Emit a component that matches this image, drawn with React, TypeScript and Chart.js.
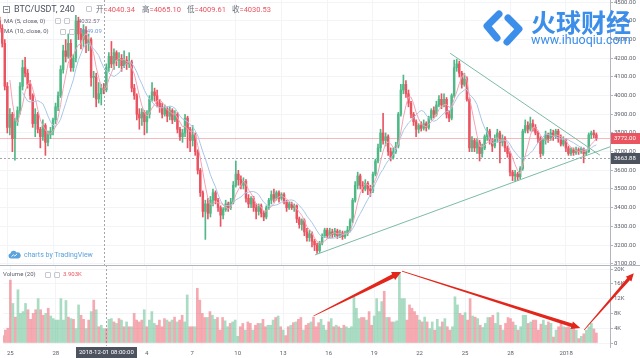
import React, { useEffect, useRef } from 'react';
import { Chart, registerables } from 'chart.js';

Chart.register(...registerables);

// ---------------- data (4h candles) ----------------
const symbol = 'BTC/USDT, 240';

const opens = [
  4400, 4360, 4280, 4050, 3830, 3900, 3770, 3860, 3920, 4050,
  4150, 4120, 4060, 4000, 3850, 3900, 3820, 3780, 3840, 3750,
  3790, 3810, 3870, 3940, 4000, 4140, 4240, 4210, 4280, 4150,
  4200, 4400, 4330, 4300, 4350, 4280, 4300, 4098, 4100, 3982,
  4010, 4040.34, 4030.53, 4150, 4210, 4170, 4230, 4190, 4200, 4160,
  4190, 4170, 4180, 4040, 4000, 3900, 3880, 3910, 3860, 3900,
  3980, 4020, 4000, 3960, 3940, 3900, 3930, 3890, 3920, 3870,
  3900, 3820, 3780, 3800, 3880, 3820, 3760, 3790, 3700, 3600,
  3480, 3380, 3420, 3370, 3440, 3480, 3440, 3400, 3360, 3390,
  3420, 3400, 3430, 3520, 3580, 3550, 3520, 3540, 3450, 3420,
  3450, 3400, 3380, 3410, 3370, 3350, 3400, 3440, 3470, 3450,
  3480, 3450, 3470, 3430, 3400, 3420, 3400, 3410, 3340, 3310,
  3330, 3270, 3240, 3260, 3220, 3200, 3170, 3210, 3250, 3280,
  3250, 3270, 3255, 3275, 3250, 3265, 3245, 3260, 3280, 3330,
  3440, 3520, 3570, 3520, 3500, 3530, 3500, 3490, 3580, 3650,
  3720, 3800, 3760, 3780, 3700, 3670, 3700, 3730, 3900, 4030,
  4060, 4010, 3960, 3900, 3860, 3820, 3840, 3825, 3850, 3830,
  3880, 3920, 3900, 3950, 3980, 3950, 3980, 3900, 3880, 4000,
  4150, 4170, 4120, 4060, 4090, 3980, 3720, 3760, 3720, 3750,
  3690, 3720, 3780, 3810, 3760, 3730, 3770, 3800, 3750, 3770,
  3720, 3690, 3590, 3570, 3580, 3565, 3610, 3810, 3840, 3820,
  3850, 3830, 3800, 3770, 3690, 3760, 3790, 3770, 3800, 3780,
  3810, 3770, 3740, 3760, 3720, 3690, 3710, 3695, 3710, 3700,
  3715, 3690, 3700, 3790, 3800, 3790,
];

const highs = [
  4420, 4380, 4300, 4070, 3930, 3910, 3880, 3940, 4070, 4190,
  4205, 4140, 4080, 4010, 3930, 3910, 3830, 3870, 3850, 3810,
  3830, 3880, 3960, 4020, 4160, 4270, 4300, 4330, 4300, 4220,
  4430, 4420, 4360, 4380, 4370, 4330, 4310, 4130, 4120, 4070,
  4060, 4065.10, 4170, 4230, 4290, 4250, 4240, 4230, 4220, 4240,
  4210, 4230, 4190, 4060, 4010, 3930, 3930, 3920, 3920, 4000,
  4070, 4040, 4030, 3980, 3960, 3950, 3940, 3940, 3930, 3920,
  3910, 3830, 3820, 3900, 3890, 3830, 3840, 3800, 3710, 3610,
  3490, 3440, 3450, 3460, 3500, 3490, 3450, 3410, 3400, 3440,
  3430, 3450, 3540, 3650, 3600, 3570, 3560, 3550, 3470, 3460,
  3460, 3420, 3420, 3420, 3380, 3410, 3450, 3490, 3500, 3490,
  3490, 3480, 3480, 3440, 3430, 3430, 3420, 3415, 3350, 3340,
  3340, 3290, 3280, 3270, 3230, 3210, 3220, 3260, 3290, 3290,
  3290, 3285, 3290, 3285, 3280, 3275, 3275, 3300, 3340, 3450,
  3540, 3590, 3580, 3540, 3550, 3540, 3520, 3590, 3660, 3740,
  3820, 3905, 3800, 3790, 3720, 3720, 3750, 3910, 4060, 4110,
  4080, 4030, 3970, 3910, 3870, 3850, 3860, 3870, 3860, 3890,
  3930, 3940, 3970, 4000, 4010, 4010, 3990, 3920, 4010, 4190,
  4195, 4185, 4130, 4120, 4100, 3990, 3780, 3770, 3770, 3760,
  3740, 3790, 3830, 3820, 3770, 3790, 3820, 3810, 3790, 3780,
  3730, 3700, 3600, 3600, 3590, 3620, 3820, 3870, 3860, 3885,
  3870, 3845, 3810, 3780, 3770, 3810, 3800, 3820, 3815, 3820,
  3820, 3790, 3780, 3770, 3730, 3720, 3720, 3725, 3720, 3725,
  3720, 3710, 3800, 3810, 3815, 3800,
];

const lows = [
  4340, 4260, 4030, 3800, 3790, 3700, 3655, 3840, 3900, 4030,
  4100, 4040, 3980, 3830, 3780, 3800, 3720, 3760, 3680, 3730,
  3770, 3790, 3850, 3920, 3990, 4120, 4180, 4200, 4130, 4130,
  4180, 4300, 4250, 4260, 4230, 4240, 4050, 3990, 3940, 3960,
  3950, 4009.61, 4020, 4130, 4150, 4140, 4160, 4150, 4130, 4150,
  4140, 4150, 4020, 3980, 3870, 3820, 3840, 3790, 3800, 3880,
  3970, 3970, 3940, 3910, 3880, 3890, 3860, 3870, 3850, 3860,
  3800, 3760, 3750, 3780, 3720, 3700, 3730, 3680, 3580, 3460,
  3350, 3230, 3340, 3350, 3410, 3420, 3380, 3300, 3340, 3380,
  3380, 3390, 3420, 3510, 3520, 3500, 3500, 3430, 3400, 3400,
  3380, 3340, 3360, 3350, 3330, 3340, 3390, 3420, 3430, 3440,
  3430, 3440, 3420, 3380, 3390, 3390, 3380, 3320, 3290, 3280,
  3250, 3220, 3220, 3190, 3170, 3155, 3160, 3200, 3240, 3240,
  3240, 3240, 3245, 3235, 3240, 3230, 3235, 3250, 3270, 3320,
  3430, 3500, 3500, 3480, 3490, 3470, 3460, 3480, 3570, 3640,
  3700, 3740, 3730, 3680, 3650, 3660, 3690, 3720, 3890, 4010,
  3990, 3940, 3880, 3840, 3780, 3800, 3810, 3815, 3810, 3820,
  3870, 3880, 3890, 3940, 3930, 3940, 3880, 3860, 3870, 3990,
  4130, 4100, 4040, 4050, 3970, 3700, 3700, 3700, 3690, 3650,
  3670, 3710, 3760, 3740, 3700, 3720, 3750, 3640, 3730, 3700,
  3670, 3570, 3545, 3540, 3545, 3555, 3600, 3800, 3800, 3810,
  3810, 3790, 3750, 3670, 3680, 3740, 3750, 3760, 3760, 3770,
  3750, 3730, 3730, 3700, 3680, 3680, 3680, 3685, 3685, 3690,
  3640, 3680, 3695, 3770, 3775, 3760,
];

const closes = [
  4360, 4280, 4050, 3830, 3900, 3770, 3860, 3920, 4050, 4150,
  4120, 4060, 4000, 3850, 3900, 3820, 3780, 3840, 3750, 3790,
  3810, 3870, 3940, 4000, 4140, 4240, 4210, 4280, 4150, 4200,
  4400, 4330, 4300, 4350, 4280, 4300, 4098, 4100, 3982, 4010,
  4040.34, 4030.53, 4150, 4210, 4170, 4230, 4190, 4200, 4160, 4190,
  4170, 4180, 4040, 4000, 3900, 3880, 3910, 3860, 3900, 3980,
  4020, 4000, 3960, 3940, 3900, 3930, 3890, 3920, 3870, 3900,
  3820, 3780, 3800, 3880, 3820, 3760, 3790, 3700, 3600, 3480,
  3380, 3420, 3370, 3440, 3480, 3440, 3400, 3360, 3390, 3420,
  3400, 3430, 3520, 3580, 3550, 3520, 3540, 3450, 3420, 3450,
  3400, 3380, 3410, 3370, 3350, 3400, 3440, 3470, 3450, 3480,
  3450, 3470, 3430, 3400, 3420, 3400, 3410, 3340, 3310, 3330,
  3270, 3240, 3260, 3220, 3200, 3170, 3210, 3250, 3280, 3250,
  3270, 3255, 3275, 3250, 3265, 3245, 3260, 3280, 3330, 3440,
  3520, 3570, 3520, 3500, 3530, 3500, 3490, 3580, 3650, 3720,
  3800, 3760, 3780, 3700, 3670, 3700, 3730, 3900, 4030, 4060,
  4010, 3960, 3900, 3860, 3820, 3840, 3825, 3850, 3830, 3880,
  3920, 3900, 3950, 3980, 3950, 3980, 3900, 3880, 4000, 4150,
  4170, 4120, 4060, 4090, 3980, 3720, 3760, 3720, 3750, 3690,
  3720, 3780, 3810, 3760, 3730, 3770, 3800, 3750, 3770, 3720,
  3690, 3590, 3570, 3580, 3565, 3610, 3810, 3840, 3820, 3850,
  3830, 3800, 3770, 3690, 3760, 3790, 3770, 3800, 3780, 3810,
  3770, 3740, 3760, 3720, 3690, 3710, 3695, 3710, 3700, 3715,
  3690, 3700, 3790, 3800, 3790, 3772,
];

// volume in thousands
const volumes = [
  2.0, 3.5, 4.0, 17.0, 10.7, 7.0, 14.4, 8.0, 8.5, 10.7,
  9.0, 6.4, 8.0, 9.0, 12.0, 9.0, 7.5, 8.0, 9.4, 7.3,
  6.6, 6.2, 6.2, 12.0, 6.2, 11.5, 7.0, 6.6, 6.4, 3.9,
  10.3, 7.5, 6.4, 3.9, 6.2, 8.5, 11.6, 9.0, 4.4, 4.8,
  3.9, 3.903, 6.4, 6.6, 5.7, 5.3, 6.6, 6.2, 4.4, 5.7,
  4.4, 4.4, 8.0, 6.2, 5.7, 6.2, 9.0, 4.4, 6.2, 8.5,
  5.3, 4.8, 6.2, 4.4, 6.6, 6.2, 5.7, 6.2, 7.0, 5.7,
  6.2, 7.5, 5.7, 13.0, 4.4, 4.4, 4.4, 14.8, 11.6, 8.0,
  6.9, 6.9, 8.5, 7.5, 6.4, 6.9, 3.5, 6.9, 6.0, 4.4,
  5.3, 5.7, 6.2, 1.8, 4.4, 5.3, 3.5, 5.7, 5.3, 3.5,
  4.8, 5.3, 5.3, 6.4, 4.4, 4.8, 4.8, 6.2, 6.9, 7.3,
  4.4, 3.5, 2.0, 4.4, 4.8, 5.5, 5.7, 6.4, 6.9, 3.5,
  4.8, 5.3, 5.7, 7.0, 4.4, 5.5, 6.4, 4.8, 3.5, 5.7,
  6.6, 4.4, 4.8, 4.4, 4.0, 4.8, 4.4, 4.0, 4.4, 12.5,
  9.4, 6.6, 6.9, 6.9, 6.2, 8.5, 4.8, 7.3, 12.0, 8.5,
  11.2, 14.0, 6.9, 6.9, 5.7, 5.7, 6.0, 19.0, 12.0, 12.0,
  6.2, 10.3, 9.4, 8.5, 7.5, 6.2, 5.7, 7.0, 5.7, 3.9,
  5.7, 3.5, 6.4, 4.4, 5.7, 6.6, 4.4, 3.5, 4.4, 12.5,
  10.3, 8.0, 7.5, 8.2, 6.2, 12.0, 7.3, 7.0, 6.6, 4.8,
  4.2, 5.3, 6.9, 6.9, 7.5, 5.3, 8.2, 4.8, 3.5, 5.3,
  6.9, 6.6, 5.7, 4.8, 3.5, 4.4, 7.5, 7.5, 5.3, 5.7,
  6.2, 6.2, 3.5, 5.1, 6.2, 4.8, 5.7, 5.3, 1.6, 3.5,
  4.4, 5.3, 4.4, 4.2, 4.4, 4.0, 4.0, 3.5, 1.2, 1.8,
  2.5, 3.5, 4.4, 5.3, 3.8, 2.7,
];

const dateTicks = [3, 21, 57, 75, 93, 111, 129, 147, 165, 183, 201, 223];
const dateLabels = ['25', '28', '4', '7', '10', '13', '16', '19', '22', '25', '28', '2018'];
const priceTicks = [3100, 3200, 3300, 3400, 3500, 3600, 3700, 3800, 3900, 4000, 4100, 4200, 4300, 4400, 4500];
const volumeTicks = [0, 4, 8, 12, 16, 20];

const crosshairIndex = 41;
const crosshairTime = '2018-12-01 08:00:00';
const crosshairPrice = 3663.88;

// trend lines: [candle index, price]
const upperTrend = [[177.4, 4227], [236.4, 3681]];
const lowerTrend = [[124.2, 3147], [240.4, 3726]];
// red arrows on volume pane: [[index, volumeK] from, [index, volumeK] to]
const volumeArrows = [
  [[123, 7.3], [157.7, 19.2]],
  [[158, 19.45], [228.6, 4.05]],
  [[230.1, 3.5], [249.8, 18.9]],
];

// ---------------- styling ----------------
const X_MIN = 0.12;
const X_MAX = 240.37;
const PRICE_MIN = 3093;
const PRICE_MAX = 4512;
const VOLUME_MAX = 21.1;

const UP = '#4fb886';
const DOWN = '#ea5461';
const UP_VOL = 'rgba(83,185,135,0.5)';
const DOWN_VOL = 'rgba(235,77,92,0.48)';
const GRID = '#f3f4f7';
const AXIS = '#b2b5be';
const TEXT = '#5d606b';
const FONT = 'Roboto, "Noto Sans", sans-serif';
const CJK = '"Noto Sans CJK SC", sans-serif';
const BLUE = '#3b8eea';

function movingAverage(period: number) {
  return closes.map((_, i) => {
    if (i < period - 1) return null;
    let s = 0;
    for (let k = i - period + 1; k <= i; k++) s += closes[k];
    return s / period;
  });
}
const ma5 = movingAverage(5);
const ma10 = movingAverage(10);
const isUp = closes.map((c, i) => c >= opens[i]);
const lastPrice = closes[closes.length - 1];

function drawArrow(ctx: CanvasRenderingContext2D, x0: number, y0: number, x1: number, y1: number, w0: number, w1: number, hw: number, hl: number) {
  const dx = x1 - x0, dy = y1 - y0;
  const len = Math.hypot(dx, dy);
  const ux = dx / len, uy = dy / len;
  const nx = -uy, ny = ux;
  const bx = x1 - ux * hl, by = y1 - uy * hl;
  ctx.beginPath();
  ctx.moveTo(x0 + nx * w0 / 2, y0 + ny * w0 / 2);
  ctx.lineTo(bx + nx * w1 / 2, by + ny * w1 / 2);
  ctx.lineTo(bx + nx * hw / 2, by + ny * hw / 2);
  ctx.lineTo(x1, y1);
  ctx.lineTo(bx - nx * hw / 2, by - ny * hw / 2);
  ctx.lineTo(bx - nx * w1 / 2, by - ny * w1 / 2);
  ctx.lineTo(x0 - nx * w0 / 2, y0 - ny * w0 / 2);
  ctx.closePath();
  ctx.fill();
}

function drawTag(ctx: CanvasRenderingContext2D, left: number, yc: number, text: string, bg: string) {
  ctx.save();
  ctx.fillStyle = bg;
  ctx.fillRect(left, Math.round(yc) - 5, 640 - left, 11);
  ctx.fillStyle = '#ffffff';
  ctx.font = `6px ${FONT}`;
  ctx.textAlign = 'left';
  ctx.textBaseline = 'middle';
  ctx.fillText(text, left + 3, Math.round(yc) + 0.5);
  ctx.restore();
}

const pricePlugin = {
  id: 'priceDecor',
  beforeDatasetsDraw(chart: any) {
    const { ctx, chartArea: a, scales } = chart;
    const x = scales.x, y = scales.y;
    ctx.save();
    ctx.lineWidth = 1;
    const yl = Math.round(y.getPixelForValue(lastPrice)) + 0.5;
    ctx.strokeStyle = 'rgba(235,77,92,0.4)';
    ctx.beginPath(); ctx.moveTo(a.left, yl); ctx.lineTo(a.right, yl); ctx.stroke();
    ctx.setLineDash([2, 2]);
    ctx.strokeStyle = '#a3a6ae';
    const yc = Math.round(y.getPixelForValue(crosshairPrice)) + 0.5;
    ctx.beginPath(); ctx.moveTo(a.left, yc); ctx.lineTo(a.right, yc); ctx.stroke();
    const xc = Math.round(x.getPixelForValue(crosshairIndex)) + 0.5;
    ctx.beginPath(); ctx.moveTo(xc, a.top); ctx.lineTo(xc, a.bottom); ctx.stroke();
    ctx.restore();
  },
  afterDraw(chart: any) {
    const { ctx, chartArea: a, scales } = chart;
    const y = scales.y;
    drawTag(ctx, a.right + 1, y.getPixelForValue(lastPrice), lastPrice.toFixed(2), DOWN);
    drawTag(ctx, a.right + 1, y.getPixelForValue(crosshairPrice), crosshairPrice.toFixed(2), '#4c525e');
  },
};

const volumePlugin = {
  id: 'volumeDecor',
  beforeDatasetsDraw(chart: any) {
    const { ctx, chartArea: a, scales } = chart;
    const xc = Math.round(scales.x.getPixelForValue(crosshairIndex)) + 0.5;
    ctx.save();
    ctx.setLineDash([2, 2]);
    ctx.strokeStyle = '#a3a6ae';
    ctx.lineWidth = 1;
    ctx.beginPath(); ctx.moveTo(xc, a.top); ctx.lineTo(xc, a.bottom + 3); ctx.stroke();
    ctx.restore();
  },
  afterDatasetsDraw(chart: any) {
    const { ctx, scales } = chart;
    const x = scales.x, y = scales.y;
    ctx.save();
    ctx.fillStyle = '#e2261b';
    const shapes = [[0.8, 4.2, 9, 9], [0.6, 3.8, 8, 9], [0.6, 3.4, 7.5, 8]];
    volumeArrows.forEach((arr, k) => {
      const [from, to] = arr;
      const s = shapes[k];
      drawArrow(ctx, x.getPixelForValue(from[0]), y.getPixelForValue(from[1]), x.getPixelForValue(to[0]), y.getPixelForValue(to[1]), s[0], s[1], s[2], s[3]);
    });
    ctx.restore();
  },
  afterDraw(chart: any) {
    const { ctx, chartArea: a, scales } = chart;
    ctx.save();
    ctx.strokeStyle = AXIS;
    ctx.lineWidth = 1;
    ctx.beginPath(); ctx.moveTo(0, 0.5); ctx.lineTo(640, 0.5); ctx.stroke();
    ctx.beginPath(); ctx.moveTo(a.right + 0.5, a.bottom); ctx.lineTo(a.right + 0.5, a.bottom + 5); ctx.stroke();
    const xc = scales.x.getPixelForValue(crosshairIndex);
    ctx.font = `6px ${FONT}`;
    const w = ctx.measureText(crosshairTime).width + 6;
    ctx.fillStyle = '#4c525e';
    ctx.fillRect(Math.round(xc - w / 2), a.bottom + 4, Math.round(w), 11);
    ctx.fillStyle = '#ffffff';
    ctx.textAlign = 'center';
    ctx.textBaseline = 'middle';
    ctx.fillText(crosshairTime, xc, a.bottom + 9.8);
    ctx.restore();
  },
};

const commonOptions: any = {
  animation: false,
  responsive: true,
  maintainAspectRatio: false,
  events: [],
  layout: { padding: 0, autoPadding: false },
  plugins: { legend: { display: false }, tooltip: { enabled: false } },
};

const box = (left: number, top: number) => (
  <div style={{ position: 'absolute', left, top, width: 4, height: 4, border: '1px solid #c5c8cf', borderRadius: 1 }} />
);

export default function App() {
  const priceRef = useRef<HTMLCanvasElement>(null);
  const volRef = useRef<HTMLCanvasElement>(null);

  useEffect(() => {
    document.body.style.margin = '0';
    const idx = closes.map((_, i) => i);
    const candleColors = idx.map(i => (isUp[i] ? UP : DOWN));
    const priceChart = new Chart(priceRef.current as HTMLCanvasElement, {
      type: 'bar',
      data: {
        datasets: [
          { type: 'line', data: upperTrend.map(p => ({ x: p[0], y: p[1] })), borderColor: '#7cbba6', borderWidth: 1, pointRadius: 0, order: 0 } as any,
          { type: 'line', data: lowerTrend.map(p => ({ x: p[0], y: p[1] })), borderColor: '#7cbba6', borderWidth: 1, pointRadius: 0, order: 0 } as any,
          { type: 'line', data: idx.map(i => ({ x: i, y: ma5[i] })), borderColor: '#f2a3b5', borderWidth: 1, pointRadius: 0, order: 1 } as any,
          { type: 'line', data: idx.map(i => ({ x: i, y: ma10[i] })), borderColor: '#a9c6e8', borderWidth: 1, pointRadius: 0, order: 1 } as any,
          { type: 'bar', data: idx.map(i => ({ x: i, y: [opens[i], closes[i]] })), backgroundColor: candleColors, barThickness: 1.8, grouped: false, minBarLength: 1, order: 2 } as any,
          { type: 'bar', data: idx.map(i => ({ x: i, y: [lows[i], highs[i]] })), backgroundColor: candleColors, barThickness: 1, grouped: false, order: 3 } as any,
        ],
      },
      options: {
        ...commonOptions,
        scales: {
          x: {
            type: 'linear', min: X_MIN, max: X_MAX, offset: false,
            afterBuildTicks: (s: any) => { s.ticks = dateTicks.map(v => ({ value: v })); },
            ticks: { display: false },
            grid: { color: GRID, drawTicks: false, offset: false },
            border: { display: false },
          },
          y: {
            type: 'linear', position: 'right', min: PRICE_MIN, max: PRICE_MAX,
            afterBuildTicks: (s: any) => { s.ticks = priceTicks.map(v => ({ value: v })); },
            afterFit: (s: any) => { s.width = 30; s.paddingTop = 0; s.paddingBottom = 0; },
            ticks: { font: { family: FONT, size: 6 }, color: TEXT, padding: 1, callback: (v: any) => Number(v).toFixed(2) },
            grid: { color: GRID, tickColor: AXIS, tickLength: 3 },
            border: { display: true, color: AXIS },
          },
        },
      } as any,
      plugins: [pricePlugin],
    });

    const volChart = new Chart(volRef.current as HTMLCanvasElement, {
      type: 'bar',
      data: {
        datasets: [
          { data: idx.map(i => ({ x: i, y: volumes[i] })), backgroundColor: idx.map(i => (isUp[i] ? UP_VOL : DOWN_VOL)), barThickness: 2, grouped: false } as any,
        ],
      },
      options: {
        ...commonOptions,
        scales: {
          x: {
            type: 'linear', min: X_MIN, max: X_MAX, offset: false,
            afterBuildTicks: (s: any) => { s.ticks = dateTicks.map(v => ({ value: v })); },
            afterFit: (s: any) => { s.height = 15; },
            ticks: { font: { family: FONT, size: 6 }, color: TEXT, padding: 7, maxRotation: 0, autoSkip: false, callback: (_v: any, i: number) => dateLabels[i] },
            grid: { color: GRID, drawTicks: false, offset: false },
            border: { display: false },
          },
          y: {
            type: 'linear', position: 'right', min: 0, max: VOLUME_MAX,
            afterBuildTicks: (s: any) => { s.ticks = volumeTicks.map(v => ({ value: v })); },
            afterFit: (s: any) => { s.width = 30; s.paddingTop = 0; s.paddingBottom = 0; },
            ticks: { font: { family: FONT, size: 6 }, color: TEXT, padding: 1, callback: (v: any) => (Number(v) === 0 ? '0' : `${v}K`) },
            grid: { color: GRID, tickColor: AXIS, tickLength: 3 },
            border: { display: true, color: AXIS },
          },
        },
      } as any,
      plugins: [volumePlugin],
    });

    return () => { priceChart.destroy(); volChart.destroy(); };
  }, []);

  const i = crosshairIndex;
  const valColor = isUp[i] ? UP : DOWN;
  const ohlc = [
    ['开', opens[i], 96],
    ['高', highs[i], 142],
    ['低', lows[i], 187],
    ['收', closes[i], 232],
  ];

  return (
    <div style={{ position: 'relative', width: 640, height: 358, overflow: 'hidden', background: '#ffffff', fontFamily: FONT }}>
      <div style={{ position: 'absolute', left: 0, top: 0, width: 640, height: 265 }}>
        <canvas ref={priceRef} style={{ display: 'block' }} />
      </div>
      <div style={{ position: 'absolute', left: 0, top: 265, width: 640, height: 93 }}>
        <canvas ref={volRef} style={{ display: 'block' }} />
      </div>

      {/* legend line 1 */}
      <div style={{ position: 'absolute', left: 3, top: 6, width: 5, height: 5, border: '1px solid #8a8d96' }}>
        <div style={{ position: 'absolute', left: 1, top: 2, width: 3, height: 1, background: '#8a8d96' }} />
      </div>
      <div style={{ position: 'absolute', left: 14, top: 3, lineHeight: '12px', fontSize: 9, color: '#4c525e', whiteSpace: 'nowrap' }}>{symbol}</div>
      {box(86, 6)}
      {ohlc.map(([k, v, left]) => (
        <div key={String(k)} style={{ position: 'absolute', left: Number(left), top: 4, lineHeight: '10px', fontSize: 7.5, whiteSpace: 'nowrap' }}>
          <span style={{ color: '#6a6d78', fontFamily: CJK }}>{k}</span>
          <span style={{ color: valColor }}>={Number(v).toFixed(2)}</span>
        </div>
      ))}

      {/* legend line 2 / 3 */}
      <div style={{ position: 'absolute', left: 4, top: 16.5, lineHeight: '8px', fontSize: 6, color: TEXT, whiteSpace: 'nowrap' }}>MA (5, close, 0)</div>
      {box(55, 18)}
      {box(64, 18)}
      <div style={{ position: 'absolute', left: 78, top: 16.5, lineHeight: '8px', fontSize: 6, color: '#7b6f86', whiteSpace: 'nowrap' }}>{(ma5[i] as number).toFixed(2)}</div>
      <div style={{ position: 'absolute', left: 4, top: 27, lineHeight: '8px', fontSize: 6, color: TEXT, whiteSpace: 'nowrap' }}>MA (10, close, 0)</div>
      {box(60, 28.5)}
      {box(69, 28.5)}
      <div style={{ position: 'absolute', left: 80, top: 27, lineHeight: '8px', fontSize: 6, color: '#6f9bd6', whiteSpace: 'nowrap' }}>{(ma10[i] as number).toFixed(2)}</div>

      {/* volume legend */}
      <div style={{ position: 'absolute', left: 3, top: 270, lineHeight: '8px', fontSize: 6, color: TEXT, whiteSpace: 'nowrap' }}>Volume (20)</div>
      {box(45, 271.5)}
      {box(54, 271.5)}
      <div style={{ position: 'absolute', left: 63, top: 270, lineHeight: '8px', fontSize: 6, color: valColor, whiteSpace: 'nowrap' }}>{volumes[i].toFixed(3)}K</div>

      {/* charts by TradingView */}
      <svg style={{ position: 'absolute', left: 8, top: 250 }} width="13" height="9" viewBox="0 0 13 9">
        <path d="M3 8.5 A2.6 2.6 0 0 1 2.4 3.4 A3.4 3.4 0 0 1 8.6 2.4 A3 3 0 0 1 10.4 8.5 Z" fill="#5ba3dc" />
        <path d="M3.5 6.6 L5.4 4.8 L6.8 6 L9 4" stroke="#ffffff" strokeWidth="0.9" fill="none" />
      </svg>
      <div style={{ position: 'absolute', left: 24, top: 250, lineHeight: '10px', fontSize: 7, color: '#5ba3dc', whiteSpace: 'nowrap' }}>charts by TradingView</div>

      {/* watermark */}
      <svg style={{ position: 'absolute', left: 480, top: 8 }} width="46" height="40" viewBox="0 0 46 40">
        <path d="M19 6 L7 18 L17 30" stroke={BLUE} strokeWidth="7" fill="none" strokeLinecap="round" strokeLinejoin="round" />
        <path d="M28 10 L39 21 L27 34" stroke={BLUE} strokeWidth="7" fill="none" strokeLinecap="round" strokeLinejoin="round" />
      </svg>
      <div style={{ position: 'absolute', left: 531, top: 8, lineHeight: '26px', fontSize: 25, fontWeight: 700, fontFamily: CJK, color: BLUE, whiteSpace: 'nowrap' }}>火球财经</div>
      <div style={{ position: 'absolute', left: 531, top: 33, lineHeight: '14px', fontSize: 12.5, color: BLUE, whiteSpace: 'nowrap' }}>www.ihuoqiu.com</div>
    </div>
  );
}
